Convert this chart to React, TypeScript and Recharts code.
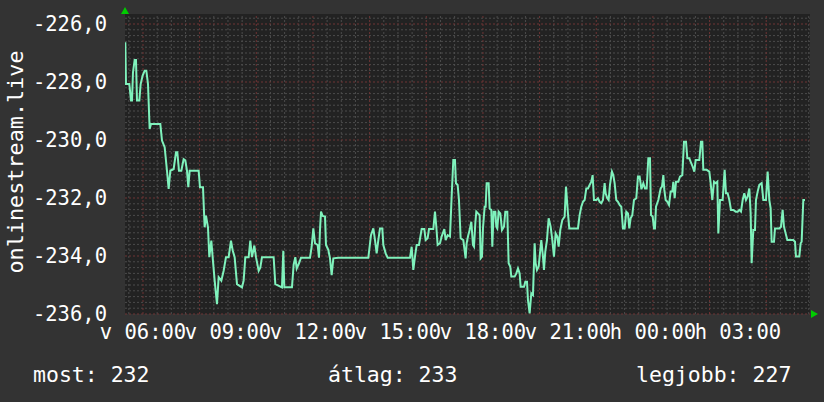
import { CartesianGrid, Line, LineChart, ReferenceLine, XAxis, YAxis } from "recharts";

// hours since 00:00 of the first day ("v")
const hours = [
  5.377, 5.4, 5.518, 5.577, 5.612, 5.647, 5.706, 5.753, 5.788, 5.871, 5.918, 5.988, 6.059, 6.118,
  6.177, 6.235, 6.283, 6.612, 6.671, 6.765, 6.847, 6.906, 6.965, 7.083, 7.165, 7.212, 7.271, 7.353,
  7.435, 7.494, 7.553, 7.6, 7.647, 7.965, 8.012, 8.118, 8.176, 8.224, 8.294, 8.341, 8.412, 8.459,
  8.53, 8.612, 8.671, 8.765, 8.847, 8.929, 9.024, 9.106, 9.165, 9.235, 9.318, 9.494, 9.553, 9.612,
  9.73, 9.788, 9.847, 9.93, 9.989, 10.083, 10.141, 10.2, 10.612, 10.671, 10.906, 10.953, 10.988,
  11.259, 11.318, 11.377,
  11.425, 11.507, 11.578, 11.895, 11.954, 12.013, 12.072, 12.166, 12.213, 12.248, 12.284, 12.342,
  12.425, 12.46, 12.542, 12.601, 12.66, 12.719, 12.895, 13.954, 14.048, 14.131, 14.19, 14.248,
  14.307, 14.366, 14.448, 14.484, 14.566, 14.637, 15.425, 15.484, 15.542, 15.601, 15.66, 15.742,
  15.837, 15.931, 15.978, 16.048, 16.095, 16.248, 16.307, 16.354, 16.401, 16.484, 16.542, 16.637,
  16.684, 16.754, 16.837, 16.895, 16.954, 17.013, 17.048, 17.107, 17.154, 17.213, 17.307, 17.389,
  17.425,
  17.472, 17.531, 17.59, 17.648, 17.684, 17.731, 17.766, 17.825, 17.884, 17.919, 17.966, 18.001,
  18.06, 18.095, 18.131, 18.201, 18.237, 18.296, 18.331, 18.378, 18.437, 18.472, 18.507, 18.554,
  18.613, 18.672, 18.743, 18.79, 18.86, 18.907, 18.966, 19.001, 19.119, 19.178, 19.237, 19.296,
  19.331, 19.449, 19.496, 19.555, 19.59, 19.648, 19.707, 19.766, 19.825, 19.86, 19.907, 19.966,
  20.025, 20.06, 20.119, 20.154, 20.201, 20.26, 20.319, 20.39, 20.449, 20.507, 20.566, 20.625,
  20.672, 20.731, 20.801, 20.884, 20.931, 21.001, 21.048, 21.354, 21.413, 21.472, 21.531, 21.59,
  21.648, 21.707, 21.766, 21.825, 21.872, 21.919, 22.001, 22.06, 22.119, 22.178, 22.237, 22.296,
  22.331, 22.39, 22.437, 22.484, 22.554, 22.601, 22.648, 22.707, 22.766, 22.825, 22.884, 22.943,
  23.001, 23.06, 23.119, 23.166, 23.213, 23.272, 23.331, 23.413, 23.472, 23.531, 23.59,
  23.603, 23.662, 23.72, 23.779, 23.838, 23.897, 23.932, 23.991, 24.038, 24.073, 24.109, 24.191,
  24.273, 24.32, 24.368, 24.403, 24.45, 24.509, 24.568, 24.626, 24.685, 24.721, 24.768, 24.815,
  24.897, 24.956, 25.038, 25.097, 25.168, 25.215, 25.285, 25.332, 25.403, 25.462, 25.509, 25.638,
  25.697, 25.744, 25.779, 25.897, 25.991, 26.038, 26.097, 26.156, 26.215, 26.273, 26.309, 26.368,
  26.462, 26.532, 26.579, 26.638, 26.697, 26.756, 26.838, 26.921, 26.991, 27.05, 27.109, 27.168,
  27.226, 27.285, 27.344, 27.403, 27.45, 27.485, 27.544, 27.603, 27.638, 27.697, 27.756, 27.838,
  27.897, 27.991, 28.05, 28.109, 28.156, 28.191, 28.273, 28.309, 28.462, 28.521, 28.579, 28.626,
  28.685, 28.744, 28.956, 29.015, 29.05, 29.168, 29.215, 29.25, 29.309, 29.368,
];

const values = [
  -226.63, -228.07, -228.07, -228.64, -228.64, -227.67, -227.24, -227.24, -228.64, -228.64, -228.07,
  -227.78, -227.61, -227.61, -228.07, -229.62, -229.45, -229.45, -230.02, -230.25, -231.06, -231.69,
  -231.06, -231.0, -230.42, -230.42, -231.06, -231.06, -230.66, -230.7, -231.06, -231.63, -231.06,
  -231.06, -231.63, -231.63, -233.01, -232.61, -233.01, -234.04, -233.47, -234.04, -234.85, -235.66,
  -234.73, -234.85, -234.51, -234.04, -234.04, -233.47, -233.8, -234.04, -234.97, -235.08, -234.85,
  -234.04, -234.04, -233.47, -234.04, -233.64, -234.04, -234.51, -234.4, -234.04, -234.04, -234.97,
  -235.08, -233.82, -235.08, -235.08, -234.3, -234.04,
  -234.43, -234.25, -234.06, -234.06, -233.68, -233.05, -233.56, -233.62, -234.06, -233.1, -232.47,
  -232.62, -232.64, -233.62, -233.79, -234.08, -234.66, -234.08, -234.06, -234.06, -233.28, -233.05,
  -233.45, -233.91, -233.45, -233.05, -233.05, -233.62, -233.91, -234.06, -234.06, -233.68, -234.48,
  -234.02, -233.62, -233.62, -233.07, -233.07, -233.45, -233.39, -233.07, -233.07, -232.47, -232.99,
  -233.62, -233.56, -233.33, -233.07, -233.45, -233.28, -233.33, -231.95, -230.69, -230.69, -231.49,
  -231.55, -232.07, -233.39, -233.45, -234.08, -233.56,
  -233.33, -233.1, -232.82, -233.62, -233.68, -232.87, -232.47, -232.53, -232.59, -234.08, -234.02,
  -233.05, -232.3, -232.3, -231.49, -231.49, -232.36, -232.41, -233.68, -232.47, -232.47, -232.99,
  -233.05, -232.47, -232.53, -233.1, -232.99, -232.47, -232.47, -234.25, -234.37, -234.71, -234.71,
  -234.6, -234.43, -234.6, -235.06, -235.06, -234.89, -234.89, -235.52, -235.98, -235.29, -235.35,
  -233.56, -234.25, -234.48, -234.37, -233.79, -233.45, -234.02, -234.48, -233.85, -233.45, -232.7,
  -232.99, -233.45, -234.02, -233.22, -233.33, -233.68, -233.1, -232.76, -232.64, -231.61, -232.53,
  -233.05, -233.05, -232.59, -232.3, -232.13, -232.07, -231.67, -231.67, -231.55, -231.44, -231.21,
  -232.07, -232.07, -232.01, -232.13, -232.18, -232.07, -231.49, -231.84, -232.01, -232.07, -231.55,
  -231.09, -231.21, -231.49, -232.07, -232.13, -232.24, -232.3, -233.05, -233.05, -232.47, -232.53,
  -233.05, -232.7, -232.59, -232.07, -232.01, -231.26, -231.26, -231.67,
  -231.67, -231.49, -231.67, -231.67, -230.63, -230.63, -232.59, -232.64, -233.05, -233.05, -232.3,
  -232.07, -231.67, -231.61, -231.21, -231.72, -232.07, -232.13, -232.24, -231.78, -231.78, -231.44,
  -232.01, -231.44, -231.44, -231.26, -231.21, -230.06, -230.06, -230.63, -230.63, -230.75, -230.92,
  -231.09, -230.69, -230.69, -230.06, -230.06, -231.03, -231.03, -231.09, -231.49, -232.07, -231.44,
  -231.49, -231.44, -233.22, -232.07, -232.07, -231.03, -231.84, -231.84, -232.07, -232.41, -232.41,
  -232.47, -232.47, -232.41, -232.47, -232.07, -231.84, -232.07, -231.95, -231.67, -232.53, -234.25,
  -233.1, -233.1, -232.07, -231.78, -231.55, -231.49, -232.07, -232.07, -231.09, -232.07, -232.36,
  -233.51, -233.51, -233.05, -233.05, -232.99, -232.41, -232.99, -233.22, -233.45, -233.45, -233.51,
  -234.02, -234.02, -233.56, -233.51, -232.07, -232.07,
];

const yTicks = [-236, -234, -232, -230, -228, -226];
const xTicks = [6, 9, 12, 15, 18, 21, 24, 27];
const dayLetters = ["v", "h"];
const summaryLabels = ["most", "átlag", "legjobb"];
const summaryValues = [232, 233, 227];

const data = hours.map((t, i) => ({ t, v: values[i] }));

const X_MIN = 5.365;
const X_MAX = 29.545;
const Y_MIN = -236;
const Y_MAX = -225.655;

const minorY: number[] = [];
for (let k = 1; k * 0.2 < Y_MAX - Y_MIN; k++) {
  const y = +(Y_MIN + k * 0.2).toFixed(1);
  if (Math.abs(y % 2) > 0.01) minorY.push(y);
}
const majorY = yTicks;
const minorX: number[] = [];
const majorX: number[] = [];
for (let h = 5.5; h < X_MAX; h += 0.5) {
  if (h % 2 === 0) majorX.push(h);
  else minorX.push(h);
}

const font = "'DejaVu Sans Mono', monospace";
const gridGray = "#4c4c4c";
const gridRed = "#6e3434";

const fmtX = (t: number) =>
  `${dayLetters[t < 24 ? 0 : 1]} ${String(t % 24).padStart(2, "0")}:00`;
const fmtY = (v: number) => v.toFixed(1).replace(".", ",");

export default function App() {
  return (
    <div
      style={{
        position: "absolute",
        left: 0,
        top: 0,
        width: 824,
        height: 402,
        background: "#333333",
      }}
    >
      <LineChart
        width={824}
        height={402}
        data={data}
        margin={{ top: 14, right: 14, bottom: 0, left: 0 }}
      >
        <CartesianGrid fill="#222222" stroke="none" horizontal={false} vertical={false} />
        {minorY.map((y) => (
          <ReferenceLine key={"my" + y} y={y} stroke={gridGray} strokeDasharray="2 2" />
        ))}
        {minorX.map((x) => (
          <ReferenceLine key={"mx" + x} x={x} stroke={gridGray} strokeDasharray="2 2" />
        ))}
        {majorY.map((y) => (
          <ReferenceLine key={"My" + y} y={y} stroke={gridRed} strokeDasharray="2 2" />
        ))}
        {majorX.map((x) => (
          <ReferenceLine key={"Mx" + x} x={x} stroke={gridRed} strokeDasharray="2 2" />
        ))}
        <XAxis
          dataKey="t"
          type="number"
          domain={[X_MIN, X_MAX]}
          allowDataOverflow
          ticks={xTicks}
          interval={0}
          tickFormatter={fmtX}
          height={88}
          axisLine={false}
          tickLine={false}
          tickSize={0}
          tickMargin={10}
          tick={{ fill: "#ffffff", fontSize: 20.5, fontFamily: font }}
        />
        <YAxis
          type="number"
          domain={[Y_MIN, Y_MAX]}
          allowDataOverflow
          ticks={yTicks}
          interval={0}
          tickFormatter={fmtY}
          width={125}
          axisLine={false}
          tickLine={false}
          tickSize={0}
          tickMargin={18}
          tick={{ fill: "#ffffff", fontSize: 20.5, fontFamily: font }}
        />
        <Line
          type="linear"
          dataKey="v"
          stroke="#7ff2bc"
          strokeWidth={2}
          dot={false}
          isAnimationActive={false}
        />
      </LineChart>
      <svg
        width={824}
        height={402}
        style={{ position: "absolute", left: 0, top: 0, pointerEvents: "none" }}
      >
        <text
          transform="translate(23,162) rotate(-90)"
          textAnchor="middle"
          fill="#ffffff"
          fontSize={21.8}
          fontFamily={font}
        >
          onlinestream.live
        </text>
        {summaryLabels.map((l, i) => (
          <text
            key={l}
            x={[33, 328, 636][i]}
            y={382}
            fill="#ffffff"
            fontSize={21.5}
            fontFamily={font}
          >
            {`${l}: ${summaryValues[i]}`}
          </text>
        ))}
        <polygon points="121,14 129,14 125,7" fill="#00cc00" />
        <polygon points="811,310 811,318 818,314" fill="#00cc00" />
      </svg>
    </div>
  );
}
